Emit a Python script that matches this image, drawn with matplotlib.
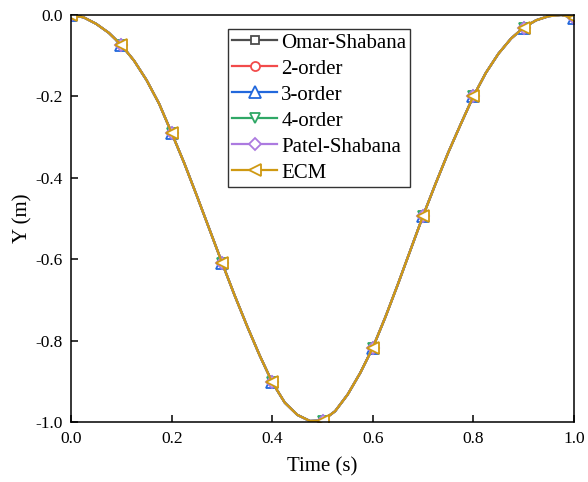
import numpy as np
import matplotlib
matplotlib.use('Agg')
import matplotlib.pyplot as plt
from matplotlib.ticker import FuncFormatter

plt.rcParams['font.family'] = ['Liberation Serif', 'DejaVu Serif']
plt.rcParams['axes.unicode_minus'] = False

# time (s) and vertical position Y (m)
t = [0.0, 0.025, 0.05, 0.075, 0.1, 0.125, 0.15, 0.175, 0.2, 0.225,
     0.25, 0.275, 0.3, 0.325, 0.35, 0.375, 0.4, 0.425, 0.45, 0.475,
     0.5, 0.525, 0.55, 0.575, 0.6, 0.625, 0.65, 0.675, 0.7, 0.725,
     0.75, 0.775, 0.8, 0.825, 0.85, 0.875, 0.9, 0.925, 0.95, 0.975, 1.0]
y_omar = [0.0, -0.006, -0.022, -0.044, -0.074, -0.112, -0.160, -0.218, -0.290, -0.364,
          -0.444, -0.526, -0.608, -0.688, -0.764, -0.836, -0.902, -0.952, -0.982, -0.997,
          -0.996, -0.973, -0.932, -0.879, -0.817, -0.742, -0.661, -0.577, -0.493, -0.414,
          -0.338, -0.268, -0.200, -0.142, -0.095, -0.058, -0.031, -0.013, -0.003, 0.0, -0.007]
y_2order = list(y_omar)
y_3order = list(y_omar)
y_4order = list(y_omar)
y_patel = list(y_omar)
y_ecm = list(y_omar)

labels = ['Omar-Shabana', '2-order', '3-order', '4-order', 'Patel-Shabana', 'ECM']
series = [y_omar, y_2order, y_3order, y_4order, y_patel, y_ecm]
colors = ['#4d4d4d', '#f24b4b', '#2268dc', '#2fa866', '#ac7ae0', '#cf9912']
markers = ['s', 'o', '^', 'v', 'D', '<']
msizes = [5.5, 6.5, 8, 7.5, 6, 9]

fig = plt.figure(figsize=(5.88, 4.82), dpi=100)
ax = fig.add_axes([0.121, 0.124, 0.855, 0.845])

for ys, lab, c, m, ms in zip(series, labels, colors, markers, msizes):
    ax.plot(t, ys, color=c, lw=1.6, marker=m, markevery=4, ms=ms,
            mfc='white', mec=c, mew=1.3, label=lab)

ax.set_xlim(0, 1)
ax.set_ylim(-1, 0)
ax.set_xticks(np.arange(0, 1.01, 0.2))
ax.set_yticks(np.arange(-1, 0.01, 0.2))
fmt = FuncFormatter(lambda v, p: '%.1f' % (0.0 if abs(v) < 1e-9 else v))
ax.xaxis.set_major_formatter(fmt)
ax.yaxis.set_major_formatter(fmt)
ax.tick_params(direction='in', length=5, width=1.1, labelsize=12.5, pad=6)
for sp in ax.spines.values():
    sp.set_linewidth(1.1)

ax.set_xlabel('Time (s)', fontsize=15, labelpad=8)
ax.set_ylabel('Y (m)', fontsize=15, labelpad=2)

leg = ax.legend(loc='upper left', bbox_to_anchor=(0.312, 0.966), fontsize=15,
                frameon=True, fancybox=False, handlelength=2.15, borderpad=0.2,
                labelspacing=0.31, handletextpad=0.2, borderaxespad=0)
leg.get_frame().set_edgecolor('black')
leg.get_frame().set_linewidth(1.0)

fig.savefig('out.png', dpi=100)
